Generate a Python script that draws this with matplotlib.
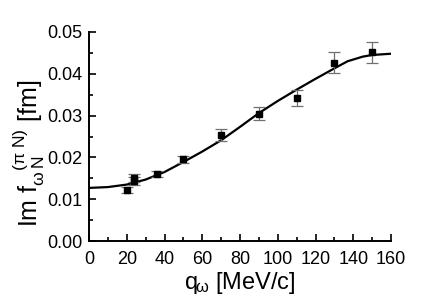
import matplotlib
matplotlib.use("Agg")
import matplotlib.pyplot as plt
from matplotlib.ticker import MultipleLocator

plt.rcParams["font.family"] = ["Liberation Sans", "DejaVu Sans"]
plt.rcParams["mathtext.fontset"] = "custom"
plt.rcParams["mathtext.rm"] = "Liberation Sans"
plt.rcParams["mathtext.it"] = "Liberation Sans"

# measured points
q_data = [20, 24, 24, 36, 50, 70, 90, 110, 130, 150]
f_data = [0.0122, 0.0143, 0.0150, 0.0160, 0.0195, 0.0254, 0.0305, 0.0342, 0.0427, 0.0452]
f_err = [0.0008, 0.0010, 0.0010, 0.0008, 0.0009, 0.0015, 0.0015, 0.0019, 0.0025, 0.0025]

# model curve
q_curve = [0, 10, 20, 30, 40, 50, 60, 70, 80, 90, 100, 110, 120, 130, 137, 145, 150, 160]
f_curve = [0.0127, 0.0129, 0.0135, 0.0147, 0.0165, 0.0189, 0.0214, 0.0241, 0.0273, 0.0306,
           0.0335, 0.0362, 0.0388, 0.0413, 0.0430, 0.0441, 0.0445, 0.0448]

fig = plt.figure(figsize=(4.32, 3.0), dpi=100)
ax = fig.add_axes([89 / 432, 1 - 241 / 300, 302 / 432, 209 / 300])

ax.plot(q_curve, f_curve, color="black", lw=1.6)
ax.errorbar(q_data, f_data, yerr=f_err, fmt="none", ecolor="#707070", elinewidth=0.9,
            capsize=4, capthick=0.9)
ax.plot(q_data, f_data, "s", color="black", ms=4.5)

ax.set_xlim(0, 160)
ax.set_ylim(0, 0.05)
ax.xaxis.set_major_locator(MultipleLocator(20))
ax.xaxis.set_minor_locator(MultipleLocator(10))
ax.yaxis.set_major_locator(MultipleLocator(0.01))
ax.yaxis.set_minor_locator(MultipleLocator(0.005))
ax.yaxis.set_major_formatter(matplotlib.ticker.FormatStrFormatter("%.2f"))

for side in ("top", "right"):
    ax.spines[side].set_visible(False)
for side in ("left", "bottom"):
    ax.spines[side].set_linewidth(1.4)
ax.tick_params(which="both", direction="in", width=1.2, labelsize=13)
ax.tick_params(axis="y", pad=5)
ax.tick_params(axis="x", pad=7)
ax.tick_params(which="major", length=5)
ax.tick_params(which="minor", length=3)

ax.set_xlabel(r"q$_{\!\omega}$ [MeV/c]", fontsize=17, labelpad=2)
ax.set_ylabel(r"Im f$_{\omega\,N}^{\ \ \ (\pi\ N)}$ [fm]", fontsize=18)
ax.yaxis.set_label_coords(-0.14, 0.42)

fig.savefig("out.png", dpi=100)
